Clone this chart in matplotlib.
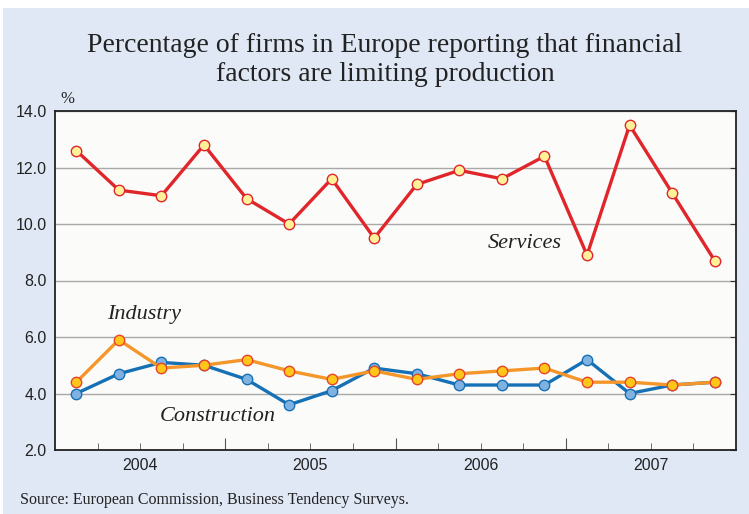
import matplotlib.pyplot as plt
from matplotlib.patches import Rectangle
from matplotlib.ticker import FixedLocator, NullFormatter

# quarterly observations, 2004 Q1 .. 2007 Q4
quarters = list(range(16))
years = ["2004", "2005", "2006", "2007"]
services = [12.6, 11.2, 11.0, 12.8, 10.9, 10.0, 11.6, 9.5,
            11.4, 11.9, 11.6, 12.4, 8.9, 13.5, 11.1, 8.7]
industry = [4.4, 5.9, 4.9, 5.0, 5.2, 4.8, 4.5, 4.8,
            4.5, 4.7, 4.8, 4.9, 4.4, 4.4, 4.3, 4.4]
construction = [4.0, 4.7, 5.1, 5.0, 4.5, 3.6, 4.1, 4.9,
                4.7, 4.3, 4.3, 4.3, 5.2, 4.0, 4.3, 4.4]

bg = "#e0e8f5"
serif = "Liberation Serif"
sans = "Liberation Sans"

fig = plt.figure(figsize=(7.49, 5.14), dpi=100, facecolor="white")
fig.patches.append(Rectangle((3 / 749, 0), 1, 1 - 8 / 514, transform=fig.transFigure,
                             facecolor=bg, edgecolor="none", zorder=-10))
ax = fig.add_axes([55 / 749, 1 - 450 / 514, 681 / 749, 339 / 514])
ax.set_facecolor("#fbfbf9")

ax.plot(quarters, services, "-o", color="#e0262a", lw=2.4, ms=7.5,
        mfc="#fff09a", mec="#e0262a", mew=1.0, zorder=3)
ax.plot(quarters, construction, "-o", color="#1670b5", lw=2.4, ms=7.5,
        mfc="#7fb2e0", mec="#1670b5", mew=1.0, zorder=3)
ax.plot(quarters, industry, "-o", color="#f5962a", lw=2.4, ms=7.5,
        mfc="#ffc61a", mec="#e8442a", mew=1.0, zorder=4)

ax.set_xlim(-0.5, 15.5)
ax.set_ylim(2, 14)
ax.set_yticks([2, 4, 6, 8, 10, 12, 14])
ax.set_yticklabels(["2.0", "4.0", "6.0", "8.0", "10.0", "12.0", "14.0"],
                   family=sans, fontsize=11.5, color="#222222")
ax.yaxis.grid(True, color="#a8a8a8", lw=1.0)
ax.set_axisbelow(True)
ax.tick_params(axis="y", which="both", left=False, right=True, direction="in",
               length=4, color="#333333", pad=6)

ax.xaxis.set_major_locator(FixedLocator([3.5, 7.5, 11.5]))
ax.xaxis.set_minor_locator(FixedLocator([q + 0.5 for q in quarters[:-1]]))
ax.xaxis.set_major_formatter(NullFormatter())
ax.tick_params(axis="x", which="major", direction="in", length=9, color="#555555")
ax.tick_params(axis="x", which="minor", direction="in", length=5, color="#555555")
for i, yr in enumerate(years):
    ax.text(4 * i + 1.5, -0.025, yr, transform=ax.get_xaxis_transform(),
            ha="center", va="top", family=sans, fontsize=11.5, color="#222222")

for side in ["top", "bottom", "left", "right"]:
    ax.spines[side].set_color("#222222")
    ax.spines[side].set_linewidth(1.3)

ax.text(10.54, 9.3, "Services", family=serif, style="italic", fontsize=16,
        ha="center", va="center", color="#222222")
ax.text(1.59, 6.8, "Industry", family=serif, style="italic", fontsize=16,
        ha="center", va="center", color="#222222")
ax.text(3.33, 3.17, "Construction", family=serif, style="italic", fontsize=16,
        ha="center", va="center", color="#222222")

fig.text(385 / 749, 1 - 60 / 514, "Percentage of firms in Europe reporting that financial\nfactors are limiting production",
         family=serif, fontsize=20, ha="center", va="center", linespacing=1.22,
         color="#222222")
fig.text(67 / 749, 1 - 99 / 514, "%", family=serif, fontsize=12,
         ha="center", va="center", color="#222222")
fig.text(20 / 749, 1 - 500 / 514, "Source: European Commission, Business Tendency Surveys.",
         family=serif, fontsize=11.5, ha="left", va="center", color="#222222")

fig.savefig("out.png", dpi=100, facecolor=fig.get_facecolor())
